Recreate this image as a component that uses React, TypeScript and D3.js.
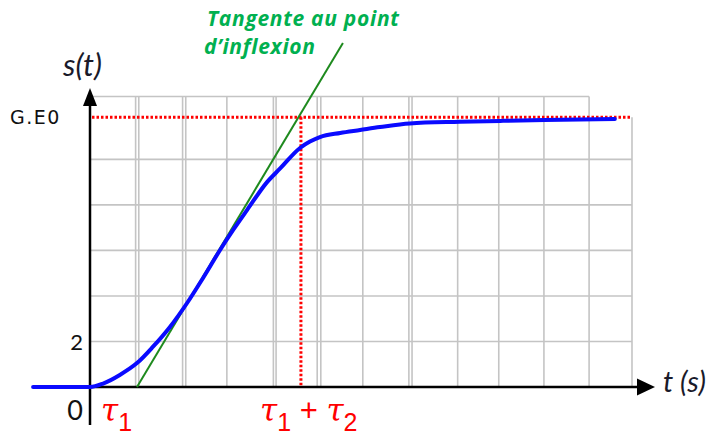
import React, { useRef, useEffect } from "react";
import * as d3 from "d3";

// step response (t in grid columns, s in units of 2 per grid row)
const curveT = [-1.26, 0, 0.29, 0.66, 1.04, 1.39, 1.77, 2.15, 2.5, 2.88, 3.17, 3.48, 3.92, 4.21, 4.65, 4.87, 5.09, 5.54, 5.98, 6.42, 7.08, 8.19, 9.08, 10.07, 11.62];
const curveS = [0, 0, 0.15, 0.53, 1.05, 1.76, 2.64, 3.69, 4.78, 6.02, 6.9, 7.78, 9.0, 9.6, 10.5, 10.78, 10.98, 11.16, 11.29, 11.42, 11.58, 11.65, 11.69, 11.73, 11.77];

// tangent at the inflection point
const tangentT = [1.04, 5.6];
const tangentS = [0, 15.11];

// hand drawn grid (some lines are doubled)
const gridT = [1.01, 1.08, 2.05, 2.12, 3.03, 4.06, 4.12, 5.03, 5.11, 6.04, 7.06, 7.13, 8.14, 9.05, 10.05, 11.05, 12];
const gridS = [2, 4, 6, 8, 10];
const gridTop = 12.76;

const GE0 = 11.85;
const tau1 = 1.04;
const tau12 = 4.67;

const tangentLabel = ["Tangente au point", "d\u2019inflexion"];

function App() {
  const ref = useRef<SVGSVGElement>(null);

  useEffect(() => {
    const svg = d3.select(ref.current);
    svg.selectAll("*").remove();

    const x = d3.scaleLinear().domain([0, 12]).range([90, 632]);
    const y = d3.scaleLinear().domain([0, 17]).range([387, 0]);

    const grid = svg.append("g").attr("stroke", "#c4c4c4").attr("stroke-width", 1.6);
    gridT.forEach((t) => {
      grid
        .append("line")
        .attr("x1", x(t))
        .attr("x2", x(t))
        .attr("y1", t === 12 ? y(GE0) : y(gridTop))
        .attr("y2", y(0));
    });
    gridS.forEach((s) => {
      grid.append("line").attr("x1", x(0)).attr("x2", x(12)).attr("y1", y(s)).attr("y2", y(s));
    });
    grid.append("line").attr("x1", x(0)).attr("x2", x(11.05)).attr("y1", y(gridTop)).attr("y2", y(gridTop));

    // axes
    svg.append("line").attr("x1", x(0)).attr("x2", 640).attr("y1", y(0)).attr("y2", y(0))
      .attr("stroke", "#000").attr("stroke-width", 2.5);
    svg.append("line").attr("x1", x(0)).attr("x2", x(0)).attr("y1", 425).attr("y2", 100)
      .attr("stroke", "#000").attr("stroke-width", 2.5);
    svg.append("path").attr("d", `M${x(0)},88 L${x(0) - 7},106 L${x(0) + 7},106 Z`).attr("fill", "#000");
    svg.append("path").attr("d", `M655,${y(0)} L637,${y(0) - 8.5} L637,${y(0) + 8.5} Z`).attr("fill", "#000");

    // red dotted construction lines
    svg.append("line").attr("x1", x(0) + 2).attr("x2", x(12)).attr("y1", y(GE0)).attr("y2", y(GE0))
      .attr("stroke", "#ff0000").attr("stroke-width", 3).attr("stroke-dasharray", "2.5 2");
    svg.append("line").attr("x1", x(tau12)).attr("x2", x(tau12)).attr("y1", y(GE0)).attr("y2", y(0))
      .attr("stroke", "#ff0000").attr("stroke-width", 3).attr("stroke-dasharray", "2.5 2");

    // tangent
    svg.append("line")
      .attr("x1", x(tangentT[0])).attr("y1", y(tangentS[0]))
      .attr("x2", x(tangentT[1])).attr("y2", y(tangentS[1]))
      .attr("stroke", "#1e8a1e").attr("stroke-width", 2);

    // response
    const line = d3.line<number>()
      .x((d, i) => x(curveT[i]))
      .y((d) => y(d))
      .curve(d3.curveMonotoneX);
    svg.append("path").attr("d", line(curveS))
      .attr("fill", "none").attr("stroke", "#0a0aff").attr("stroke-width", 4).attr("stroke-linecap", "round");

    // labels
    svg.append("text").attr("x", 10).attr("y", y(GE0) + 7).text("G.E0")
      .style("font-family", "'DejaVu Sans'").style("font-size", "19px").style("letter-spacing", "1.5px").attr("fill", "#111");
    svg.append("text").attr("x", 83).attr("y", y(2) + 9).attr("text-anchor", "end").text("2")
      .style("font-family", "Lato").style("font-size", "22px").attr("fill", "#111");
    svg.append("text").attr("x", 83).attr("y", 420).attr("text-anchor", "end").text("0")
      .style("font-family", "Lato").style("font-size", "27px").attr("fill", "#111");
    svg.append("text").attr("x", 63).attr("y", 76).text("s(t)")
      .style("font-family", "Lato").style("font-style", "italic").style("font-size", "31px").attr("fill", "#1a1a2a");
    svg.append("text").attr("x", 663).attr("y", 392).text("t (s)")
      .style("font-family", "Lato").style("font-style", "italic").style("font-size", "29px").attr("fill", "#1a1a2a");

    svg.selectAll(".tl")
      .data(tangentLabel)
      .enter()
      .append("text")
      .attr("x", (d, i) => (i === 0 ? 207 : 204))
      .attr("y", (d, i) => 26 + i * 28)
      .text((d) => d)
      .style("font-family", "'Open Sans'").style("font-weight", "bold").style("font-style", "italic")
      .style("font-size", "21px").style("letter-spacing", "0.7px").attr("fill", "#00b050");

    const tau = (x0: number, parts: [string, string][]) => {
      const t = svg.append("text").attr("x", x0).attr("y", 421).attr("fill", "#ff0000");
      parts.forEach(([kind, str]) => {
        if (kind === "tau") {
          t.append("tspan").text(str).attr("dy", 0)
            .style("font-family", "'DejaVu Serif'").style("font-style", "italic").style("font-size", "31px");
        } else if (kind === "sub") {
          t.append("tspan").text(str).attr("dy", 10)
            .style("font-family", "'Liberation Sans'").style("font-size", "25px");
        } else {
          t.append("tspan").text(str).attr("dy", -10)
            .style("font-family", "'Liberation Sans'").style("font-size", "31px");
        }
      });
    };
    tau(x(tau1) - 36, [["tau", "\u03c4"], ["sub", "1"]]);
    tau(260, [["tau", "\u03c4"], ["sub", "1"], ["op", " + "], ["tau", "\u03c4"], ["sub", "2"]]);
  }, []);

  return (
    <div style={{ position: "absolute", left: 0, top: 0 }}>
      <svg ref={ref} width={713} height={436} style={{ display: "block", background: "#fff" }}></svg>
    </div>
  );
}

export default App;
